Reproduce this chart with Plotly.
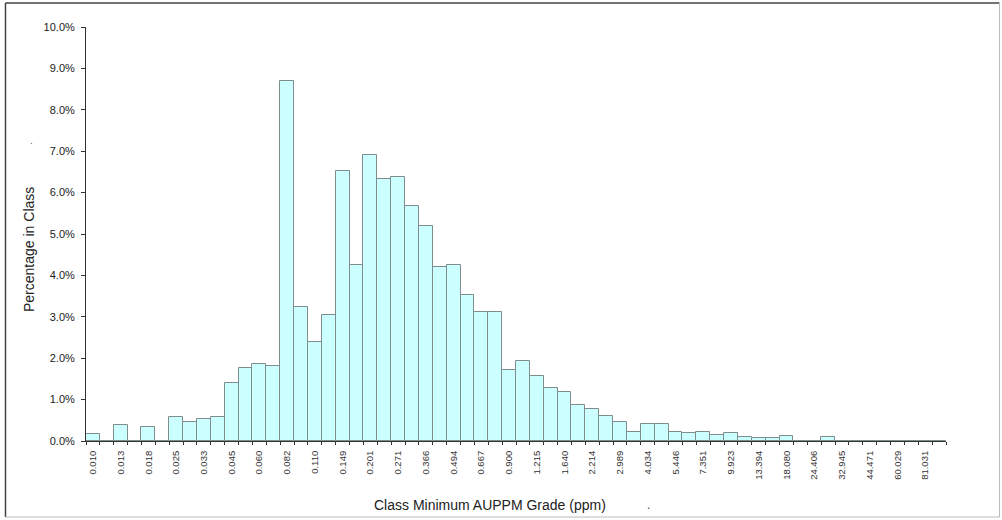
import plotly.graph_objects as go

# ---- data ----
tick_labels = ["0.010", "0.013", "0.018", "0.025", "0.033", "0.045", "0.060", "0.082",
               "0.110", "0.149", "0.201", "0.271", "0.366", "0.494", "0.667", "0.900",
               "1.215", "1.640", "2.214", "2.989", "4.034", "5.446", "7.351", "9.923",
               "13.394", "18.080", "24.406", "32.945", "44.471", "60.029", "81.031"]

pct_in_class = [0.16, 0.00, 0.39, 0.00, 0.35, 0.00, 0.59, 0.47, 0.53, 0.58,
                1.41, 1.77, 1.86, 1.80, 8.70, 3.24, 2.39, 3.04, 6.51, 4.25,
                6.90, 6.34, 6.38, 5.67, 5.19, 4.21, 4.25, 3.52, 3.12, 3.12,
                1.72, 1.93, 1.56, 1.28, 1.19, 0.86, 0.78, 0.60, 0.47, 0.22,
                0.40, 0.41, 0.21, 0.19, 0.21, 0.15, 0.19, 0.10, 0.08, 0.08,
                0.11, 0.00, 0.00, 0.10, 0.00, 0.00, 0.00, 0.00, 0.00, 0.00,
                0.00, 0.00]

x_title = "Class Minimum AUPPM Grade (ppm)"
y_title = "Percentage in Class"

# ---- figure ----
n = len(pct_in_class)
bin_index = list(range(n))
label_pos = bin_index[::2][:len(tick_labels)]
boundaries = [i - 0.5 for i in range(n + 1)]

FONT = "Arial, Liberation Sans, sans-serif"
AX = "#333333"

fig = go.Figure()
fig.add_trace(go.Bar(
    x=bin_index, y=pct_in_class, width=1.0,
    marker=dict(color="#CCFFFF", line=dict(color="#7f8c8c", width=1)),
    hoverinfo="y",
))

W, H = 1002, 520
L, R, T, B = 86, 56, 27, 79
pw, ph = W - L - R, H - T - B


def px(x):
    return (x - L) / pw


def py(y):
    return (H - B - y) / ph


fig.update_layout(
    width=W, height=H,
    margin=dict(l=L, r=R, t=T, b=B, pad=0),
    paper_bgcolor="white", plot_bgcolor="white",
    showlegend=False, bargap=0,
    font=dict(family=FONT, color=AX),
    xaxis=dict(
        range=[-0.5, n - 0.5], showgrid=False, zeroline=False,
        showline=True, linecolor=AX, linewidth=1,
        tickmode="array", tickvals=label_pos, ticktext=tick_labels,
        ticks="", tickangle=-90, tickfont=dict(size=9.5, color=AX),
        ticklabelstandoff=5,
        minor=dict(tickmode="array", tickvals=boundaries, ticks="outside",
                   ticklen=3, tickcolor=AX, tickwidth=1, showgrid=False),
    ),
    xaxis2=dict(
        overlaying="x", anchor="y", matches="x", range=[-0.5, n - 0.5],
        showgrid=False, zeroline=False, showline=False, showticklabels=False,
        tickmode="array", tickvals=label_pos, ticks="",
        minor=dict(tickmode="array", tickvals=boundaries, ticks="inside",
                   ticklen=3, tickcolor=AX, tickwidth=1, showgrid=False),
    ),
    yaxis=dict(
        range=[0, 10], showgrid=False, zeroline=False,
        showline=True, linecolor=AX, linewidth=1,
        tickmode="linear", tick0=0, dtick=1, tickformat=".1f", ticksuffix="%",
        ticks="outside", ticklen=4, tickcolor=AX,
        tickfont=dict(size=11, color="#222222"), ticklabelstandoff=4,
    ),
    yaxis2=dict(
        overlaying="y", anchor="x", matches="y", side="left", range=[0, 10],
        showgrid=False, zeroline=False, showline=False, showticklabels=False,
        tickmode="linear", tick0=0, dtick=1,
        ticks="inside", ticklen=5, tickcolor=AX,
    ),
    annotations=[
        dict(text=x_title, xref="paper", yref="paper", x=px(490), y=py(505),
             xanchor="center", yanchor="middle", showarrow=False,
             font=dict(size=14, color="#222222", family=FONT)),
        dict(text=y_title, xref="paper", yref="paper", x=px(29), y=py(250),
             xanchor="center", yanchor="middle", showarrow=False, textangle=-90,
             font=dict(size=14, color="#222222", family=FONT)),
        dict(text=".", xref="paper", yref="paper", x=px(648), y=py(505),
             xanchor="center", yanchor="middle", showarrow=False,
             font=dict(size=12, color="#444444", family=FONT)),
        dict(text=".", xref="paper", yref="paper", x=px(32), y=py(140),
             xanchor="center", yanchor="middle", showarrow=False,
             font=dict(size=10, color="#666666", family=FONT)),
    ],
    shapes=[
        dict(type="line", xref="paper", yref="paper", x0=px(5.5), x1=px(999.5),
             y0=py(3), y1=py(3), line=dict(color="#444444", width=1.5)),
        dict(type="line", xref="paper", yref="paper", x0=px(5.5), x1=px(5.5),
             y0=py(3), y1=py(517), line=dict(color="#444444", width=1.5)),
        dict(type="line", xref="paper", yref="paper", x0=px(999.5), x1=px(999.5),
             y0=py(3), y1=py(517), line=dict(color="#bbbbbb", width=1)),
        dict(type="line", xref="paper", yref="paper", x0=px(5.5), x1=px(999.5),
             y0=py(517), y1=py(517), line=dict(color="#bbbbbb", width=1)),
    ],
)

fig.write_html("out.html",
               config={"displayModeBar": False},
               post_script="document.body.style.margin='0';"
                           "document.body.style.overflow='hidden';")
